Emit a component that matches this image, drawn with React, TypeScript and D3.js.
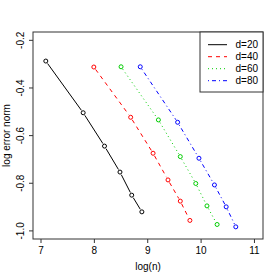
import React from 'react';
import * as d3 from 'd3';

const series = ['d=20', 'd=40', 'd=60', 'd=80'];
const colors = ['#000000', '#FF0000', '#00CD00', '#0000FF'];
const dashes = ['none', '4,4', '1,3', '1,3,4,3'];

const logN = [
  [7.09, 7.79, 8.19, 8.48, 8.70, 8.89],
  [7.99, 8.68, 9.10, 9.38, 9.61, 9.79],
  [8.50, 9.20, 9.61, 9.90, 10.11, 10.30],
  [8.86, 9.56, 9.96, 10.25, 10.47, 10.65],
];
const logErr = [
  [-0.287, -0.504, -0.644, -0.753, -0.850, -0.920],
  [-0.312, -0.523, -0.674, -0.786, -0.875, -0.956],
  [-0.311, -0.534, -0.688, -0.801, -0.895, -0.973],
  [-0.311, -0.544, -0.695, -0.807, -0.899, -0.983],
];

const xTicks = [7, 8, 9, 10, 11];
const yTicks = [-0.2, -0.4, -0.6, -0.8, -1.0];

export default function App() {
  const left = 33, right = 263, top = 32, bottom = 239;
  const x = d3.scaleLinear().domain([6.85, 11.16]).range([left, right]);
  const y = d3.scaleLinear().domain([-1.034, -0.165]).range([bottom, top]);
  const font = '"Liberation Sans", Arial, Helvetica, sans-serif';
  const gap = 3;

  return (
    <svg width={280} height={280} style={{ position: 'absolute', left: 0, top: 0, background: '#fff' }}
      fontFamily={font} fontSize={10}>
      <rect x={0} y={0} width={280} height={280} fill="#fff" />
      {/* series, type="b": segments with gaps around the points */}
      {series.map((s, si) => {
        const pts = logN[si].map((v, i) => [x(v), y(logErr[si][i])]);
        return (
          <g key={s}>
            {pts.slice(1).map((p, i) => {
              const [x0, y0] = pts[i];
              const [x1, y1] = p;
              const len = Math.hypot(x1 - x0, y1 - y0);
              const ux = (x1 - x0) / len, uy = (y1 - y0) / len;
              return (
                <line key={i} x1={x0 + ux * gap} y1={y0 + uy * gap} x2={x1 - ux * gap} y2={y1 - uy * gap}
                  stroke={colors[si]} strokeWidth={1} strokeDasharray={dashes[si]} />
              );
            })}
            {pts.map((p, i) => (
              <circle key={i} cx={p[0]} cy={p[1]} r={2} fill="none" stroke={colors[si]} strokeWidth={1} />
            ))}
          </g>
        );
      })}
      <rect x={left} y={top} width={right - left} height={bottom - top} fill="none" stroke="#333" strokeWidth={1} />
      {/* x axis */}
      {xTicks.map(t => (
        <g key={t}>
          <line x1={x(t)} x2={x(t)} y1={bottom} y2={bottom + 4} stroke="#333" />
          <text x={x(t)} y={bottom + 15} textAnchor="middle">{t}</text>
        </g>
      ))}
      {/* y axis */}
      {yTicks.map(t => (
        <g key={t}>
          <line x1={left - 4} x2={left} y1={y(t)} y2={y(t)} stroke="#333" />
          <text transform={`translate(${left - 9},${y(t)}) rotate(-90)`} textAnchor="middle">
            {d3.format('.1f')(t).replace('\u2212', '-')}
          </text>
        </g>
      ))}
      <text x={(left + right) / 2} y={270} textAnchor="middle">log(n)</text>
      <text transform={`translate(10,${(top + bottom) / 2}) rotate(-90)`} textAnchor="middle">log error norm</text>
      {/* legend */}
      <rect x={200} y={top} width={right - 200} height={60} fill="#fff" stroke="#333" strokeWidth={1} />
      {series.map((s, si) => (
        <g key={s}>
          <line x1={208} x2={227} y1={44.7 + si * 12} y2={44.7 + si * 12} stroke={colors[si]}
            strokeDasharray={dashes[si]} />
          <text x={235.5} y={44.7 + si * 12} dy="0.35em">{s}</text>
        </g>
      ))}
    </svg>
  );
}
